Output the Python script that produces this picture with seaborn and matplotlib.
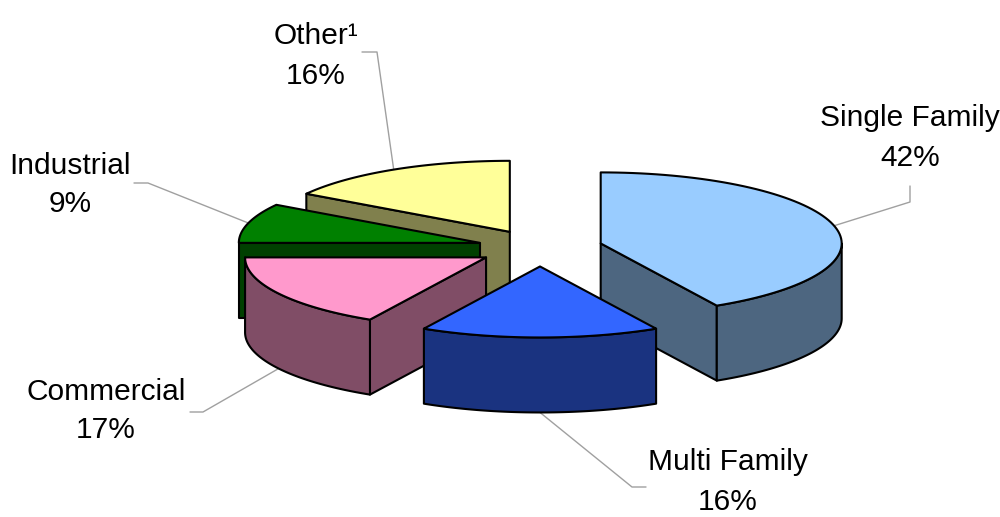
import numpy as np
import matplotlib
matplotlib.use("Agg")
import matplotlib.pyplot as plt
from matplotlib.patches import Polygon
import seaborn as sns

# ---- data ----
categories = ["Single Family", "Multi Family", "Commercial", "Industrial", "Other"]
shares = [42, 16, 17, 9, 16]
label_names = ["Single Family", "Multi Family", "Commercial", "Industrial", "Other\u00b9"]
top_colors = ["#99CCFF", "#3366FF", "#FF99CC", "#008000", "#FFFF99"]
side_colors = ["#4D6680", "#1A3380", "#804D66", "#004000", "#80804D"]

# ---- layout (pixel space of a 1000x517 canvas) ----
label_pos = [(910, 138), (728, 482), (106, 411), (70, 185), (316, 56)]
leader_elbow = [(910, 202), (632, 487), (203, 412), (148, 183), (377, 52)]
leader_end = [(910, 186), (646, 487), (190, 412), (134, 183), (362, 52)]

CX, CY = 540, 248      # pie centre
RX, RY = 241, 71       # ellipse radii of the top face
H = 75                 # thickness
EXPLODE = 0.26

sns.set_theme(style="white")
plt.rcParams['font.family'] = ['Liberation Sans', 'DejaVu Sans']

fig = plt.figure(figsize=(10, 5.17), dpi=100)
ax = fig.add_axes([0, 0, 1, 1])
ax.set_xlim(0, 1000)
ax.set_ylim(517, 0)
ax.axis('off')


def pt(cx, cy, theta, r=1.0, drop=0.0):
    t = np.deg2rad(theta)
    return np.array([cx + RX * r * np.sin(t), cy - RY * r * np.cos(t) + drop])


def arc(cx, cy, a, b, drop=0.0, n=80):
    ts = np.linspace(a, b, n)
    return np.array([pt(cx, cy, t, drop=drop) for t in ts])


total = float(sum(shares))
bounds = np.concatenate([[0], np.cumsum(shares)]) / total * 360.0

slices = []
for i in range(len(shares)):
    t1, t2 = bounds[i], bounds[i + 1]
    mid = 0.5 * (t1 + t2)
    c = pt(CX, CY, mid, r=EXPLODE)
    depth = pt(c[0], c[1], mid, r=0.5)[1]
    slices.append((depth, i, t1, t2, mid, c))

slices.sort(key=lambda s: s[0])

ekw = dict(edgecolor="black", linewidth=1.5, joinstyle="round")
anchors = [None] * len(shares)
for depth, i, t1, t2, mid, c in slices:
    cx, cy = c
    cdown = c + np.array([0, H])
    # radial faces
    for t, vis in ((t1, np.sin(np.deg2rad(t1)) < -1e-9), (t2, np.sin(np.deg2rad(t2)) > 1e-9)):
        if vis:
            p = pt(cx, cy, t)
            poly = np.array([c, p, p + [0, H], cdown])
            ax.add_patch(Polygon(poly, closed=True, facecolor=side_colors[i], **ekw))
    # outer wall
    a, b = max(t1, 90.0), min(t2, 270.0)
    if a < b:
        top = arc(cx, cy, a, b)
        bot = arc(cx, cy, b, a, drop=H)
        ax.add_patch(Polygon(np.vstack([top, bot]), closed=True,
                             facecolor=side_colors[i], **ekw))
    # top face
    poly = np.vstack([[c], arc(cx, cy, t1, t2)])
    ax.add_patch(Polygon(poly, closed=True, facecolor=top_colors[i], **ekw))
    # leader anchor
    if np.cos(np.deg2rad(mid)) > 0:
        anchors[i] = pt(cx, cy, mid)
    else:
        anchors[i] = pt(cx, cy, mid, drop=H)

for i in range(len(shares)):
    a = anchors[i]
    e = leader_elbow[i]
    f = leader_end[i]
    ax.plot([a[0], e[0], f[0]], [a[1], e[1], f[1]], color="#A0A0A0",
            linewidth=1.0, zorder=0)
    ax.text(label_pos[i][0], label_pos[i][1], f"{label_names[i]}\n{shares[i]}%",
            ha="center", va="center", fontsize=21.5, color="black",
            linespacing=1.5)

fig.savefig("out.png", dpi=100, facecolor="white")
